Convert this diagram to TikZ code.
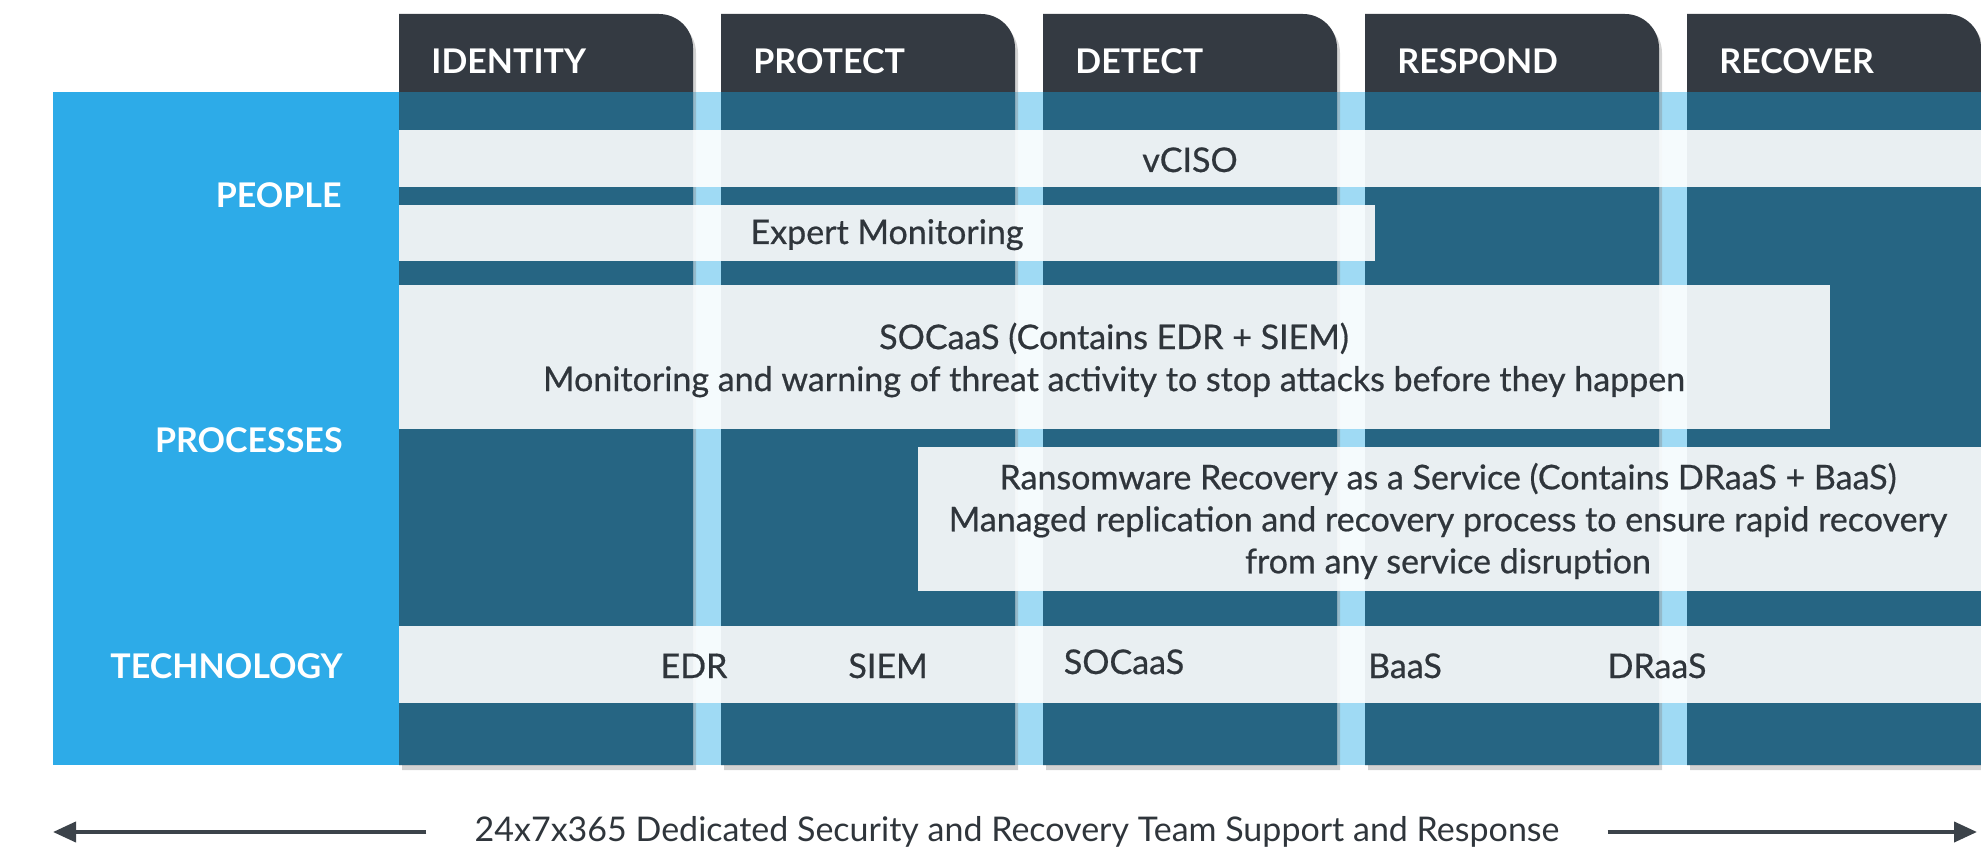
\documentclass[tikz,border=0pt]{standalone}
\usepackage{fontspec}
\setmainfont{Lato}
\newfontfamily\barfont{Lato}[FakeBold=0.6]
\usetikzlibrary{shadows,arrows.meta}

\definecolor{skyblue}{HTML}{2DABE8}
\definecolor{deepteal}{HTML}{266583}
\definecolor{tabgray}{HTML}{343A42}
\definecolor{gapblue}{HTML}{9FDAF4}
\definecolor{inkgray}{HTML}{2F353B}
\definecolor{linegray}{HTML}{3C434A}

\begin{document}
\begin{tikzpicture}[x=0.5pt,y=0.5pt,
  bar/.style={fill=white,fill opacity=0.9},
  bartext/.style={text=inkgray,font=\barfont\fontsize{17}{21}\selectfont,align=center,inner sep=0pt},
  techlabel/.style={bartext,anchor=base},
  rowlabel/.style={text=white,font=\bfseries\fontsize{17}{20}\selectfont,anchor=base east,inner sep=0pt},
  tablabel/.style={text=white,font=\bfseries\fontsize{17}{20}\selectfont,anchor=base west,inner sep=0pt},
  timeline/.style={draw=linegray,line width=2pt,-{Triangle[length=11.5pt,width=10pt]}}]
\useasboundingbox (0,0) rectangle (1981,-850);

\fill[skyblue] (53,-92) rectangle (399,-765);
\fill[gapblue] (399,-92) rectangle (1981,-765);
\foreach \name [count=\i from 0] in {IDENTITY,PROTECT,DETECT,RESPOND,RECOVER}{
  \pgfmathsetmacro{\xl}{399+322*\i}
  \pgfmathsetmacro{\xr}{\xl+294}
  \fill[tabgray,drop shadow={shadow xshift=1.5pt,shadow yshift=-2.5pt,opacity=0.35}]
    (\xl,-765) -- (\xl,-14) -- ({\xr-34},-14) arc[start angle=90,end angle=0,radius=34] -- (\xr,-765) -- cycle;
  \fill[deepteal] (\xl,-92) rectangle (\xr,-765);
  \node[tablabel] (tab\i) at ({\xl+32},-74) {\name};
}

\fill[bar] (399,-130) rectangle (1981,-187);
\fill[bar] (399,-205) rectangle (1375,-261);
\fill[bar] (399,-285) rectangle (1830,-429);
\fill[bar] (918,-447) rectangle (1981,-591);
\fill[bar] (399,-626) rectangle (1981,-703);

\node[bartext,anchor=base] (vciso) at (1190,-172) {vCISO};
\node[bartext,anchor=base] (expert) at (887,-244) {Expert Monitoring};
\node[bartext] (socaas) at (1114,-360) {SOCaaS (Contains EDR + SIEM)\\Monitoring and warning of threat activity to stop attacks before they happen};
\node[bartext] (rraas) at (1448,-521) {Ransomware Recovery as a Service (Contains DRaaS + BaaS)\\Managed replication and recovery process to ensure rapid recovery\\from any service disruption};

\node[techlabel] (edr) at (694,-678) {EDR};
\node[techlabel] (siem) at (888,-678) {SIEM};
\node[techlabel] (soc) at (1124,-674) {SOCaaS};
\node[techlabel] (baas) at (1405,-678) {BaaS};
\node[techlabel] (draas) at (1657,-678) {DRaaS};

\node[rowlabel] (people) at (342,-208) {PEOPLE};
\node[rowlabel] (processes) at (343,-452) {PROCESSES};
\node[rowlabel] (technology) at (343,-678) {TECHNOLOGY};

\node[text=inkgray,font=\fontsize{17}{20}\selectfont,inner xsep=24pt,inner ysep=0pt] (support) at (1017,-832) {24x7x365 Dedicated Security and Recovery Team Support and Response};
\coordinate (leftend) at (53,-832);
\coordinate (rightend) at (1977,-832);
\draw[timeline] (support.west) -- (leftend);
\draw[timeline] (support.east) -- (rightend);
\end{tikzpicture}
\end{document}
